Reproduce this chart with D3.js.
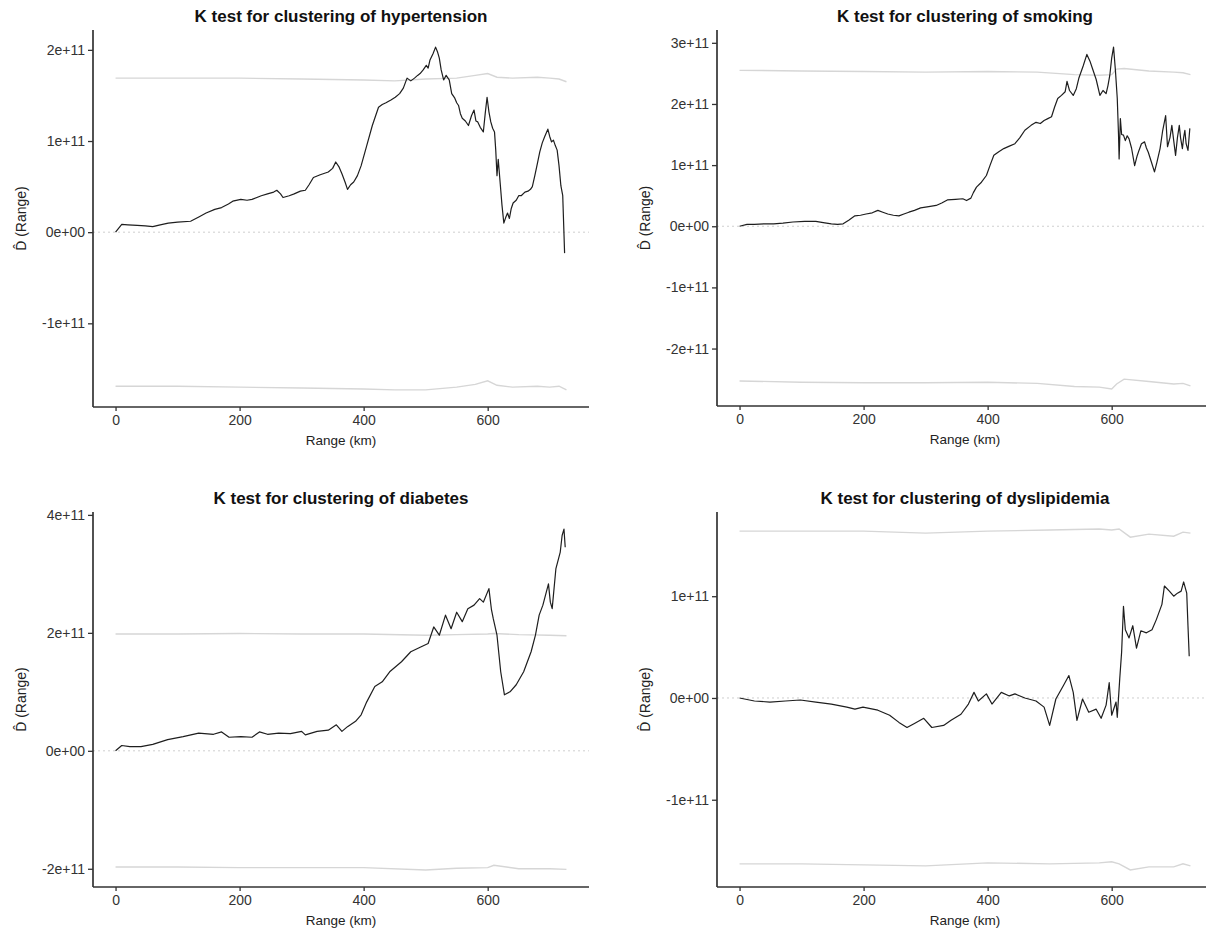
<!DOCTYPE html>
<html>
<head>
<meta charset="utf-8">
<script src="https://cdn.jsdelivr.net/npm/d3@7"></script>
<style>
  html, body { margin: 0; padding: 0; background: #fff; }
  svg { display: block; font-family: "Liberation Sans", Arial, sans-serif; }
</style>
</head>
<body>
<svg id="chart" width="1206" height="934"></svg>
<script>
// ---------------- DATA (D-hat values in units of 1e11) ----------------
const titles = [
  "K test for clustering of hypertension",
  "K test for clustering of smoking",
  "K test for clustering of diabetes",
  "K test for clustering of dyslipidemia"
];
const xTicks = [0, 200, 400, 600];
const xTitle = "Range (km)";
const yTitle = "D\u0302 (Range)";

// Hypertension
const hyperKm = [0,10,20,35,48,60,72,85,100,121,135,146,160,171,182,189,202,212,220,235,245,255,260,266,270,280,288,298,306,312,319,330,343,350,355,360,365,370,374,379,384,390,396,405,414,424,430,436,444,451,458,464,470,476,482,487,491,496,501,504,507,512,516,519,522,525,529,533,538,542,547,550,553,556,559,564,569,574,578,581,584,588,593,596,599,602,605,608,611,613,615,617,620,623,626,629,632,635,638,641,646,650,654,660,665,669,672,676,680,684,688,692,697,700,703,706,709,712,715,718,721,724];
const hyperD  = [0,0.085,0.08,0.074,0.07,0.06,0.08,0.10,0.11,0.12,0.17,0.21,0.25,0.27,0.31,0.34,0.36,0.35,0.36,0.40,0.42,0.44,0.46,0.42,0.38,0.40,0.42,0.45,0.46,0.52,0.60,0.63,0.66,0.70,0.77,0.72,0.64,0.55,0.47,0.52,0.55,0.62,0.73,0.95,1.17,1.37,1.40,1.42,1.45,1.48,1.52,1.58,1.69,1.66,1.69,1.72,1.74,1.78,1.83,1.80,1.89,1.96,2.03,1.98,1.91,1.78,1.67,1.72,1.67,1.52,1.47,1.42,1.39,1.30,1.25,1.22,1.17,1.28,1.34,1.22,1.21,1.15,1.10,1.30,1.48,1.32,1.21,1.14,1.10,0.90,0.62,0.80,0.55,0.30,0.10,0.16,0.21,0.15,0.26,0.32,0.35,0.40,0.40,0.44,0.45,0.47,0.50,0.62,0.75,0.88,0.98,1.05,1.13,1.05,0.99,1.01,0.95,0.90,0.73,0.51,0.40,-0.23];
const hyperEnvKm = [0,100,200,300,400,450,500,550,580,600,615,640,680,700,715,727];
const hyperUp = [1.69,1.69,1.69,1.68,1.67,1.66,1.68,1.69,1.72,1.74,1.70,1.69,1.70,1.69,1.68,1.65];
const hyperLo = [-1.69,-1.69,-1.70,-1.71,-1.72,-1.73,-1.73,-1.70,-1.67,-1.63,-1.68,-1.70,-1.69,-1.70,-1.69,-1.73];
const hyperYTicks = [-1, 0, 1, 2];
const hyperYLabels = ["-1e+11", "0e+00", "1e+11", "2e+11"];

// Smoking
const smokeKm = [0,12,24,40,55,70,86,105,123,135,148,158,167,176,186,195,204,214,223,231,239,248,257,265,273,282,292,305,317,326,335,348,360,366,373,377,382,390,398,404,410,418,426,435,444,452,460,470,478,485,491,497,503,508,513,519,525,528,532,538,543,547,554,560,565,569,575,581,586,591,594,597,600,603,606,609,611,612,614,616,619,622,625,628,632,637,641,644,648,653,656,659,664,669,673,678,682,687,690,694,697,700,703,706,709,711,714,716,718,720,723,726];
const smokeD  = [0,0.03,0.03,0.04,0.04,0.05,0.07,0.08,0.08,0.06,0.04,0.03,0.04,0.10,0.17,0.18,0.20,0.22,0.26,0.23,0.20,0.18,0.17,0.20,0.23,0.26,0.30,0.32,0.34,0.38,0.43,0.44,0.45,0.42,0.46,0.55,0.64,0.72,0.83,1.00,1.16,1.22,1.27,1.31,1.35,1.45,1.57,1.65,1.70,1.68,1.73,1.76,1.79,1.95,2.09,2.14,2.20,2.37,2.22,2.14,2.25,2.42,2.62,2.81,2.70,2.58,2.40,2.14,2.22,2.17,2.30,2.47,2.75,2.93,2.55,2.09,1.50,1.10,1.76,1.50,1.49,1.40,1.48,1.43,1.28,0.99,1.15,1.24,1.35,1.38,1.28,1.21,1.05,0.89,1.05,1.27,1.55,1.81,1.30,1.45,1.65,1.40,1.16,1.45,1.65,1.45,1.27,1.45,1.57,1.35,1.24,1.60];
const smokeEnvKm = [0,100,200,300,400,480,540,580,600,608,620,660,700,715,727];
const smokeUp = [2.55,2.54,2.53,2.52,2.53,2.52,2.48,2.47,2.48,2.57,2.58,2.54,2.52,2.51,2.48];
const smokeLo = [-2.53,-2.55,-2.56,-2.56,-2.55,-2.57,-2.62,-2.63,-2.66,-2.58,-2.50,-2.54,-2.58,-2.57,-2.61];
const smokeYTicks = [-2, -1, 0, 1, 2, 3];
const smokeYLabels = ["-2e+11", "-1e+11", "0e+00", "1e+11", "2e+11", "3e+11"];

// Diabetes
const diabKm = [0,10,23,41,60,84,109,134,158,171,183,202,220,232,245,263,282,300,306,325,343,356,365,374,387,396,405,418,430,442,461,476,492,504,513,522,532,541,550,559,568,578,587,593,602,606,609,615,621,627,636,646,658,670,677,683,689,698,701,704,710,717,720,723,725];
const diabD  = [0,0.09,0.07,0.07,0.11,0.19,0.24,0.30,0.28,0.32,0.23,0.24,0.23,0.32,0.28,0.30,0.29,0.33,0.27,0.33,0.35,0.44,0.33,0.41,0.50,0.61,0.83,1.09,1.17,1.34,1.51,1.68,1.76,1.82,2.10,1.96,2.30,2.07,2.35,2.19,2.41,2.47,2.58,2.52,2.75,2.40,2.24,1.96,1.34,0.95,1.00,1.12,1.34,1.68,1.96,2.30,2.47,2.83,2.52,2.41,3.09,3.37,3.65,3.76,3.45];
const diabEnvKm = [0,100,200,300,400,500,550,600,610,650,700,727];
const diabUp = [1.98,1.98,1.99,1.98,1.98,1.96,1.97,1.98,1.99,1.97,1.96,1.95];
const diabLo = [-1.97,-1.97,-1.98,-1.98,-1.98,-2.02,-1.99,-1.98,-1.94,-2.00,-2.00,-2.01];
const diabYTicks = [-2, 0, 2, 4];
const diabYLabels = ["-2e+11", "0e+00", "2e+11", "4e+11"];

// Dyslipidemia
const dysKm = [0,24,49,74,98,123,148,173,186,199,223,242,257,270,282,297,310,329,341,357,369,378,385,398,407,422,435,444,460,478,491,500,510,522,531,538,544,553,563,575,583,591,596,600,607,609,613,616,619,622,628,634,640,647,656,665,672,681,685,693,700,706,712,716,721,723,725];
const dysD  = [0,-0.03,-0.04,-0.03,-0.02,-0.04,-0.06,-0.09,-0.11,-0.09,-0.12,-0.17,-0.24,-0.29,-0.25,-0.20,-0.29,-0.27,-0.22,-0.16,-0.06,0.055,-0.03,0.04,-0.06,0.055,0.02,0.04,0.00,-0.03,-0.09,-0.27,-0.01,0.12,0.22,0.055,-0.22,-0.01,-0.14,-0.11,-0.20,-0.07,0.15,-0.17,-0.04,-0.19,0.19,0.45,0.90,0.67,0.59,0.71,0.49,0.66,0.64,0.67,0.77,0.92,1.10,1.05,1.00,1.03,1.05,1.14,1.03,0.71,0.41];
const dysEnvKm = [0,100,200,300,400,500,580,600,612,630,660,700,715,727];
const dysUp = [1.64,1.64,1.64,1.62,1.64,1.65,1.66,1.65,1.66,1.58,1.61,1.59,1.63,1.62];
const dysLo = [-1.63,-1.63,-1.64,-1.65,-1.62,-1.63,-1.62,-1.61,-1.63,-1.69,-1.66,-1.66,-1.63,-1.65];
const dysYTicks = [-1, 0, 1];
const dysYLabels = ["-1e+11", "0e+00", "1e+11"];

// ---------------- LAYOUT ----------------
const panels = [
  { title: titles[0], km: hyperKm, d: hyperD, envKm: hyperEnvKm, up: hyperUp, lo: hyperLo, yt: hyperYTicks, yl: hyperYLabels, x0: 93, x1: 589, y0: 30, y1: 407 },
  { title: titles[1], km: smokeKm, d: smokeD, envKm: smokeEnvKm, up: smokeUp, lo: smokeLo, yt: smokeYTicks, yl: smokeYLabels, x0: 717, x1: 1213, y0: 30, y1: 406 },
  { title: titles[2], km: diabKm, d: diabD, envKm: diabEnvKm, up: diabUp, lo: diabLo, yt: diabYTicks, yl: diabYLabels, x0: 93, x1: 589, y0: 512, y1: 887 },
  { title: titles[3], km: dysKm, d: dysD, envKm: dysEnvKm, up: dysUp, lo: dysLo, yt: dysYTicks, yl: dysYLabels, x0: 717, x1: 1213, y0: 512, y1: 887 }
];

const svg = d3.select("#chart");

function expand(lo, hi, f) { const p = (hi - lo) * f; return [lo - p, hi + p]; }

panels.forEach(p => {
  const main = p.km.map((k, i) => ({ x: k, y: p.d[i] }));
  const upper = p.envKm.map((k, i) => ({ x: k, y: p.up[i] }));
  const lower = p.envKm.map((k, i) => ({ x: k, y: p.lo[i] }));
  const allY = p.d.concat(p.up, p.lo);
  const xMax = d3.max(p.km.concat(p.envKm));

  const x = d3.scaleLinear().domain(expand(0, xMax, 0.05)).range([p.x0, p.x1]);
  const y = d3.scaleLinear().domain(expand(d3.min(allY), d3.max(allY), 0.05)).range([p.y1, p.y0]);

  const g = svg.append("g");
  const line = d3.line().x(d => x(d.x)).y(d => y(d.y));

  // zero reference line
  g.append("line")
    .attr("x1", p.x0).attr("x2", p.x1)
    .attr("y1", y(0)).attr("y2", y(0))
    .attr("stroke", "#cfcfcf").attr("stroke-width", 1)
    .attr("stroke-dasharray", "2,3");

  // envelopes
  [upper, lower].forEach(env => {
    g.append("path").datum(env)
      .attr("d", line)
      .attr("fill", "none")
      .attr("stroke", "#d6d6d6")
      .attr("stroke-width", 1.4);
  });

  // observed D-hat
  g.append("path").datum(main)
    .attr("d", line)
    .attr("fill", "none")
    .attr("stroke", "#1e1e1e")
    .attr("stroke-width", 1.2)
    .attr("stroke-linejoin", "round");

  // axes
  const xAxis = d3.axisBottom(x).tickValues(xTicks).tickSize(4).tickPadding(4).tickSizeOuter(0);
  const gx = g.append("g").attr("transform", `translate(0,${p.y1})`).call(xAxis);
  gx.select(".domain").attr("d", `M${p.x0},0H${p.x1}`);

  const yAxis = d3.axisLeft(y).tickValues(p.yt).tickFormat((d, i) => p.yl[i]).tickSize(5).tickPadding(3).tickSizeOuter(0);
  const gy = g.append("g").attr("transform", `translate(${p.x0},0)`).call(yAxis);
  gy.select(".domain").attr("d", `M0,${p.y0}V${p.y1}`);

  [gx, gy].forEach(a => {
    a.select(".domain").attr("stroke", "#333").attr("stroke-width", 1.7);
    a.selectAll(".tick line").attr("stroke", "#333").attr("stroke-width", 1.3);
    a.selectAll(".tick text").attr("fill", "#333").style("font-size", "14px");
  });

  // titles
  g.append("text")
    .attr("x", (p.x0 + p.x1) / 2).attr("y", p.y0 - 8)
    .attr("text-anchor", "middle")
    .style("font-size", "17px").style("font-weight", "bold")
    .attr("fill", "#111")
    .text(p.title);

  g.append("text")
    .attr("x", (p.x0 + p.x1) / 2).attr("y", p.y1 + 38)
    .attr("text-anchor", "middle")
    .style("font-size", "13.5px")
    .attr("fill", "#222")
    .text(xTitle);

  g.append("text")
    .attr("transform", `translate(${p.x0 - 67},${(p.y0 + p.y1) / 2}) rotate(-90)`)
    .attr("text-anchor", "middle")
    .style("font-size", "14px")
    .attr("fill", "#222")
    .text(yTitle);
});
</script>
</body>
</html>
